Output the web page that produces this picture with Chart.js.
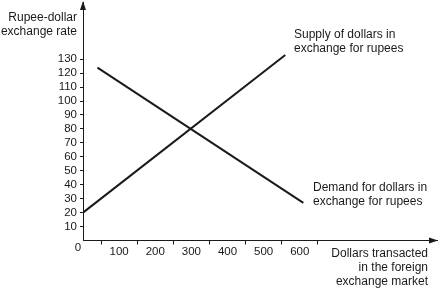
<!DOCTYPE html>
<html lang="en">
<head>
<meta charset="UTF-8">
<title>Rupee-dollar exchange market</title>
<script src="https://cdn.jsdelivr.net/npm/chart.js"></script>
<style>
    body, html {
        margin: 0;
        padding: 0;
        background: #fff;
        overflow: hidden;
    }
    #wrap {
        width: 438px;
        height: 290px;
    }
</style>
</head>
<body>
<div id="wrap"><canvas id="fx"></canvas></div>
<script>
    // values
    const supplyX = [0, 560];
    const supplyY = [20, 133];
    const demandX = [40, 610];
    const demandY = [124, 27];

    const xLabels = [100, 200, 300, 400, 500, 600];
    const xTickMarks = [50, 150, 250, 350, 450, 550, 650];
    const yLabels = [10, 20, 30, 40, 50, 60, 70, 80, 90, 100, 110, 120, 130];

    const yTitle = ['Rupee-dollar', 'exchange rate'];
    const xTitle = ['Dollars transacted', 'in the foreign', 'exchange market'];
    const supplyText = ['Supply of dollars in', 'exchange for rupees'];
    const demandText = ['Demand for dollars in', 'exchange for rupees'];

    const ink = '#1a1a1a';
    const font = 'Liberation Sans, Arial, sans-serif';

    function pts(xs, ys) {
        return xs.map((x, i) => ({ x: x, y: ys[i] }));
    }

    const annotations = {
        id: 'annotations',
        afterDraw(chart) {
            const ctx = chart.ctx;
            const a = chart.chartArea;
            const xs = chart.scales.x;
            const ys = chart.scales.y;
            ctx.save();
            ctx.fillStyle = ink;
            ctx.strokeStyle = ink;

            // arrow heads
            ctx.beginPath();
            ctx.moveTo(a.left, a.top - 1);
            ctx.lineTo(a.left - 3, a.top + 8);
            ctx.lineTo(a.left + 3, a.top + 8);
            ctx.closePath();
            ctx.fill();
            ctx.beginPath();
            ctx.moveTo(a.right + 1, a.bottom);
            ctx.lineTo(a.right - 8, a.bottom - 3);
            ctx.lineTo(a.right - 8, a.bottom + 3);
            ctx.closePath();
            ctx.fill();

            ctx.font = '12px ' + font;
            ctx.textBaseline = 'middle';

            ctx.textAlign = 'right';
            yTitle.forEach((t, i) => ctx.fillText(t, 77, 18 + i * 14));
            xTitle.forEach((t, i) => ctx.fillText(t, 428, 254 + i * 14));

            ctx.textAlign = 'left';
            supplyText.forEach((t, i) => ctx.fillText(t, 294, 35 + i * 14));
            demandText.forEach((t, i) => ctx.fillText(t, 313, 188 + i * 14));

            ctx.font = '11.5px ' + font;
            ctx.textAlign = 'center';
            ctx.fillText('0', xs.getPixelForValue(0) - 5, ys.getPixelForValue(0) + 7);
            ctx.restore();
        }
    };

    new Chart(document.getElementById('fx'), {
        type: 'scatter',
        data: {
            datasets: [
                {
                    label: 'Supply',
                    data: pts(supplyX, supplyY),
                    showLine: true,
                    borderColor: ink,
                    borderWidth: 2,
                    pointRadius: 0
                },
                {
                    label: 'Demand',
                    data: pts(demandX, demandY),
                    showLine: true,
                    borderColor: ink,
                    borderWidth: 2,
                    pointRadius: 0
                }
            ]
        },
        options: {
            responsive: true,
            maintainAspectRatio: false,
            animation: false,
            layout: { padding: { left: 0, right: 1, top: 2, bottom: 0 } },
            plugins: {
                legend: { display: false },
                tooltip: { enabled: false }
            },
            scales: {
                x: {
                    type: 'linear',
                    min: 0,
                    max: 980,
                    afterFit(s) {
                        s.height = 49.5;
                        s.paddingLeft = 0;
                        s.paddingRight = 0;
                    },
                    afterBuildTicks(s) {
                        s.ticks = xTickMarks.concat(xLabels).sort((p, q) => p - q).map(v => ({ value: v }));
                    },
                    border: { display: true, color: ink, width: 1 },
                    grid: {
                        drawOnChartArea: false,
                        drawTicks: true,
                        tickLength: 4,
                        tickColor: c => (c.tick && xTickMarks.includes(c.tick.value)) ? ink : 'rgba(0,0,0,0)'
                    },
                    ticks: {
                        autoSkip: false,
                        maxRotation: 0,
                        padding: 0,
                        color: ink,
                        font: { family: font, size: 11.5 },
                        callback: v => xLabels.includes(v) ? String(v) : ''
                    }
                },
                y: {
                    type: 'linear',
                    min: 0,
                    max: 171,
                    afterFit(s) {
                        s.width = 83;
                        s.paddingTop = 0;
                        s.paddingBottom = 0;
                    },
                    afterBuildTicks(s) {
                        s.ticks = yLabels.map(v => ({ value: v }));
                    },
                    border: { display: true, color: ink, width: 1 },
                    grid: {
                        drawOnChartArea: false,
                        drawTicks: true,
                        tickLength: 3,
                        tickColor: ink
                    },
                    ticks: {
                        padding: 3,
                        color: ink,
                        font: { family: font, size: 11.5 },
                        callback: v => String(v)
                    }
                }
            }
        },
        plugins: [annotations]
    });
</script>
</body>
</html>
